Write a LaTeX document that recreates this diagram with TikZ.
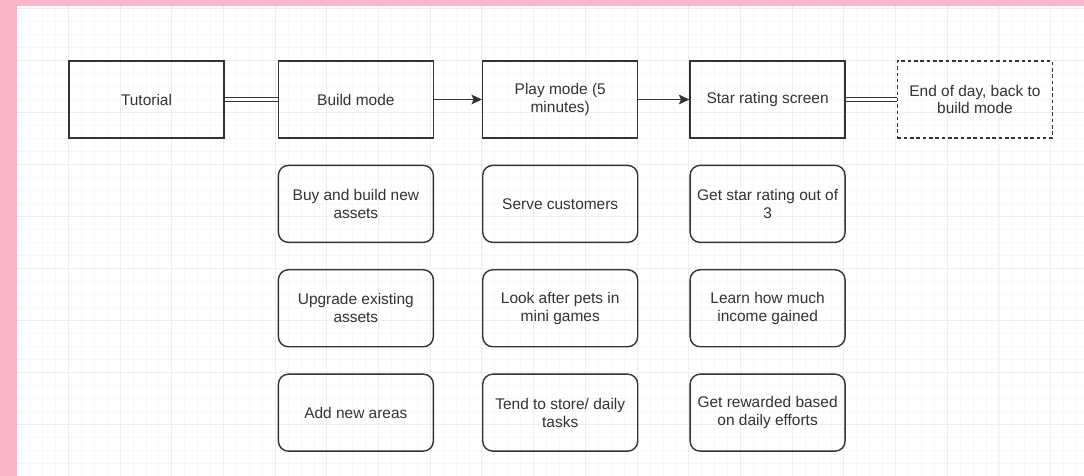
\documentclass[tikz,border=0pt]{standalone}
\usepackage{fontspec}
\setmainfont{Liberation Sans}
\usetikzlibrary{arrows.meta,positioning}

\definecolor{pinkbg}{RGB}{253,182,200}
\definecolor{linegray}{RGB}{51,51,51}
\definecolor{gridminor}{RGB}{248,248,248}
\definecolor{gridmajor}{RGB}{238,238,238}

\begin{document}
\begin{tikzpicture}[
        x=0.02cm, y=-0.02cm,
        node distance=0.52cm and 1.02cm,
        box/.style={draw=linegray, line width=0.8pt, rectangle, align=center, text=linegray,
            minimum width=3.1cm, minimum height=1.54cm, inner sep=2pt,
            font=\fontsize{8.8}{10.2}\selectfont},
        roundbox/.style={box, rounded corners=0.2cm},
        endbox/.style={box, dash pattern=on 2pt off 1.6pt},
        arrow/.style={-{Stealth[length=6pt, width=5.5pt, inset=1.2pt]}, line width=0.8pt, draw=linegray},
        link/.style={double, double distance=1.8pt, line width=0.7pt, draw=linegray}
    ]
        % Page and grid
        \useasboundingbox (0,0) rectangle (1084,476);
        \fill[pinkbg] (0,0) rectangle (1084,476);
        \fill[white] (17,6) rectangle (1084,476);
        \begin{scope}
            \clip (17,6) rectangle (1084,476);
            \foreach \i in {0,...,82}
                \draw[gridminor, line width=0.4pt] ({16.6+12.925*\i},6) -- ({16.6+12.925*\i},476);
            \foreach \j in {0,...,36}
                \draw[gridminor, line width=0.4pt] (17,{8+13*\j}) -- (1084,{8+13*\j});
            \foreach \i in {0,...,20}
                \draw[gridmajor, line width=0.5pt] ({16.6+51.7*\i},6) -- ({16.6+51.7*\i},476);
            \foreach \j in {0,...,9}
                \draw[gridmajor, line width=0.5pt] (17,{8+52*\j}) -- (1084,{8+52*\j});
        \end{scope}

        % Main row
        \node[box] (tutorial) at (146.5,99.5) {Tutorial};
        \node[box, right=1.06cm of tutorial] (build) {Build mode};
        \node[box, right=0.96cm of build] (play) {Play mode (5\\minutes)};
        \node[box, right=of play] (stars) {Star rating screen};
        \node[endbox, right=of stars] (endday) {End of day, back to\\build mode};

        % Build mode steps
        \node[roundbox, below=of build] (buy) {Buy and build new\\assets};
        \node[roundbox, below=of buy] (upgrade) {Upgrade existing\\assets};
        \node[roundbox, below=of upgrade] (areas) {Add new areas};

        % Play mode steps
        \node[roundbox, below=of play] (serve) {Serve customers};
        \node[roundbox, below=of serve] (pets) {Look after pets in\\mini games};
        \node[roundbox, below=of pets] (tasks) {Tend to store/ daily\\tasks};

        % Star rating steps
        \node[roundbox, below=of stars] (rating) {Get star rating out of\\3};
        \node[roundbox, below=of rating] (income) {Learn how much\\income gained};
        \node[roundbox, below=of income] (reward) {Get rewarded based\\on daily efforts};

        % Connections
        \draw[link] (tutorial) -- (build);
        \draw[arrow] (build) -- (play);
        \draw[arrow] (play) -- (stars);
        \draw[link] (stars) -- (endday);

    \end{tikzpicture}
\end{document}
